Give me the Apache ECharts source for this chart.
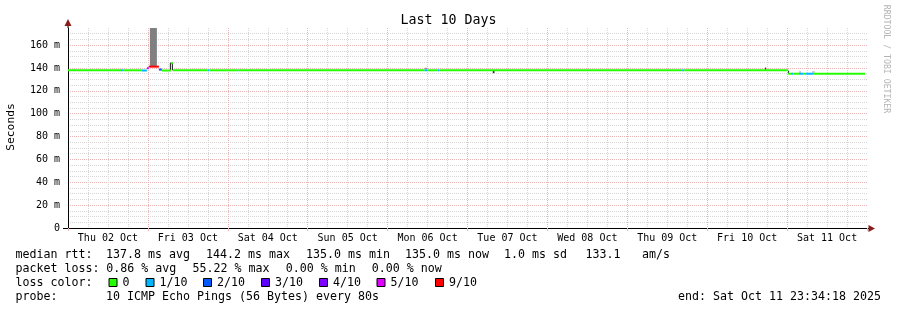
<!DOCTYPE html>
<html>
<head>
<meta charset="utf-8">
<title>Last 10 Days</title>
<script src="https://cdn.jsdelivr.net/npm/echarts@6/dist/echarts.min.js"></script>
<style>
  html, body { margin: 0; padding: 0; background: #fff; }
  #chart { width: 897px; height: 310px; }
</style>
</head>
<body>
<div id="chart"></div>
<script>
// x values are hours since Thu 02 Oct 00:00
const dayLabels = ['Thu 02 Oct', 'Fri 03 Oct', 'Sat 04 Oct', 'Sun 05 Oct', 'Mon 06 Oct',
  'Tue 07 Oct', 'Wed 08 Oct', 'Thu 09 Oct', 'Fri 10 Oct', 'Sat 11 Oct']

const lossLabels = ['0', '1/10', '2/10', '3/10', '4/10', '5/10', '9/10']
const lossColors = ['#26ff00', '#00b8ff', '#0059ff', '#5e00ff', '#7e00ff', '#dd00ff', '#ff0000']

// median rtt, one entry per segment (ms), loss = index into lossLabels
const medStart = [0, 15.9, 16.5, 22.2, 23.7, 24.3, 27.3, 28.2, 30.9, 31.5, 42.0, 42.45, 51.3, 51.6,
  107.1, 108.0, 111.0, 111.45, 184.5, 185.1, 216.3, 217.2, 217.8, 219.6, 220.8, 221.7, 223.8]
const medEnd = [15.9, 16.5, 22.2, 23.7, 24.3, 27.3, 28.2, 30.9, 31.5, 42.0, 42.45, 51.3, 51.6, 107.1,
  108.0, 111.0, 111.45, 184.5, 185.1, 216.3, 217.2, 217.8, 219.6, 220.8, 221.7, 223.8, 239.4]
const medValue = [138, 138, 138, 137.8, 139.8, 141.2, 138.6, 137.8, 144.2, 138, 138, 138, 138, 138,
  138, 138, 138, 138, 138, 138, 135, 135, 135, 135, 135, 135, 135]
const medLoss = [0, 1, 0, 1, 5, 6, 2, 0, 0, 0, 1, 0, 1, 0,
  1, 0, 1, 0, 1, 0, 0, 1, 0, 1, 0, 1, 0]

// smoke (ping spread)
const smokeStart = [24.6, 30.6, 31.2, 107.1, 127.6, 209.4, 216.3, 219.6, 223.5]
const smokeEnd = [26.7, 30.9, 31.5, 108.0, 128.1, 209.7, 216.6, 220.2, 224.4]
const smokeLow = [141.5, 138, 138, 138.8, 135.5, 138, 135, 136, 136]
const smokeHigh = [180, 144.5, 144.5, 140.2, 138, 140.5, 137.5, 137, 137]
const smokeColor = ['#808080', '#111111', '#111111', '#999999', '#222222', '#222222', '#222222', '#aaaaaa', '#aaaaaa']

const GRID_LEFT = 68
const GRID_TOP = 28
const GRID_W = 799
const GRID_H = 200
const MONO = '"DejaVu Sans Mono", monospace'
const GRID_MINOR = '#d6d6d6'
const GRID_MAJOR = '#e8b4b4'
const ARROW = '#8b1c1c'

const medianData = medStart.map((s, i) => [s, medEnd[i], medValue[i], medLoss[i]])
const smokeData = smokeStart.map((s, i) => [s, smokeEnd[i], smokeLow[i], smokeHigh[i], i])

const chart = echarts.init(document.getElementById('chart'), null, { renderer: 'canvas' })

const legendText = (text, x, y, extra) => ({
  type: 'text',
  style: Object.assign({ text, x, y, fill: '#000', font: '11.63px ' + MONO, verticalAlign: 'middle' }, extra || {})
})

// loss colour legend, swatch x positions
const swatchX = [108.5, 145.5, 203, 261, 319, 376.5, 435]
const lossLegend = []
lossLabels.forEach((lab, i) => {
  lossLegend.push({
    type: 'rect',
    shape: { x: swatchX[i] + 0.5, y: 278.5, width: 8, height: 8 },
    style: { fill: lossColors[i], stroke: '#000', lineWidth: 1 }
  })
  lossLegend.push(legendText(lab, swatchX[i] + 14, 283))
})

const option = {
  animation: false,
  backgroundColor: '#fff',
  title: {
    text: 'Last 10 Days',
    left: 'center',
    top: 9,
    textStyle: { fontFamily: MONO, fontSize: 13.3, fontWeight: 'normal', color: '#000' }
  },
  grid: {
    left: GRID_LEFT,
    top: GRID_TOP,
    width: GRID_W,
    height: GRID_H,
    outerBoundsMode: 'none',
    containLabel: false
  },
  xAxis: [
    {
      type: 'value',
      min: 0,
      max: 240,
      interval: 24,
      axisLine: { show: true, lineStyle: { color: '#000', width: 1 } },
      axisTick: { show: true, length: 3, lineStyle: { color: GRID_MAJOR } },
      axisLabel: { show: false },
      splitLine: { show: true, showMaxLine: false, lineStyle: { color: GRID_MAJOR, type: [1, 1], width: 1 } },
      minorTick: { show: false, splitNumber: 4 },
      minorSplitLine: { show: true, lineStyle: { color: GRID_MINOR, type: [1, 1], width: 1 } }
    },
    {
      type: 'value',
      min: 0,
      max: 240,
      interval: 12,
      position: 'bottom',
      axisLine: { show: false },
      axisTick: { show: false },
      splitLine: { show: false },
      axisLabel: {
        margin: 5,
        fontFamily: MONO,
        fontSize: 10,
        color: '#000',
        formatter: v => (v % 24 === 12 ? dayLabels[(v - 12) / 24] : '')
      }
    }
  ],
  yAxis: {
    type: 'value',
    min: 0,
    max: 175,
    interval: 5,
    axisLine: { show: true, lineStyle: { color: '#000', width: 1 } },
    axisTick: { show: false },
    axisLabel: {
      margin: 8,
      fontFamily: MONO,
      fontSize: 10,
      color: '#000',
      formatter: v => (v % 20 !== 0 ? '' : v === 0 ? '0' : v + ' m')
    },
    splitLine: {
      show: true,
      showMaxLine: false,
      lineStyle: { color: [GRID_MAJOR, GRID_MINOR, GRID_MINOR, GRID_MINOR], type: [1, 1], width: 1 }
    }
  },
  series: [
    {
      name: 'smoke',
      type: 'custom',
      clip: true,
      z: 2,
      encode: { x: [0, 1], y: [2, 3] },
      data: smokeData,
      renderItem: (params, api) => {
        const p0 = api.coord([api.value(0), api.value(3)])
        const p1 = api.coord([api.value(1), api.value(2)])
        return {
          type: 'rect',
          shape: { x: p0[0], y: p0[1], width: p1[0] - p0[0], height: p1[1] - p0[1] },
          style: { fill: smokeColor[api.value(4)] }
        }
      }
    },
    {
      name: 'median rtt',
      type: 'custom',
      clip: true,
      z: 3,
      encode: { x: [0, 1], y: 2 },
      data: medianData,
      renderItem: (params, api) => {
        const p0 = api.coord([api.value(0), api.value(2)])
        const p1 = api.coord([api.value(1), api.value(2)])
        return {
          type: 'rect',
          shape: { x: p0[0], y: p0[1] - 1, width: p1[0] - p0[0], height: 2 },
          style: { fill: lossColors[api.value(3)] }
        }
      }
    }
  ],
  graphic: [
    // axis arrows
    { type: 'line', shape: { x1: GRID_LEFT, y1: GRID_TOP, x2: GRID_LEFT, y2: 24 }, style: { stroke: '#000', lineWidth: 1 } },
    { type: 'polygon', shape: { points: [[GRID_LEFT, 19], [GRID_LEFT - 3.5, 26], [GRID_LEFT + 3.5, 26]] }, style: { fill: ARROW } },
    { type: 'line', shape: { x1: 63, y1: GRID_TOP + GRID_H + 0.5, x2: GRID_LEFT, y2: GRID_TOP + GRID_H + 0.5 }, style: { stroke: '#000', lineWidth: 1 } },
    { type: 'line', shape: { x1: GRID_LEFT + GRID_W, y1: GRID_TOP + GRID_H + 0.5, x2: 870, y2: GRID_TOP + GRID_H + 0.5 }, style: { stroke: '#000', lineWidth: 1 } },
    { type: 'polygon', shape: { points: [[875, GRID_TOP + GRID_H + 0.5], [868.5, GRID_TOP + GRID_H - 3], [868.5, GRID_TOP + GRID_H + 4]] }, style: { fill: ARROW } },
    // axis title and credit
    {
      type: 'text', x: 11, y: 127, rotation: Math.PI / 2,
      style: { text: 'Seconds', fill: '#000', font: '11.3px ' + MONO, align: 'center', verticalAlign: 'middle' }
    },
    {
      type: 'text', x: 886.5, y: 59, rotation: -Math.PI / 2,
      style: { text: 'RRDTOOL / TOBI OETIKER', fill: '#b4b4b4', font: '8.2px ' + MONO, align: 'center', verticalAlign: 'middle' }
    },
    // legend rows
    legendText('median rtt:', 15.5, 255),
    legendText('137.8 ms avg', 106, 255),
    legendText('144.2 ms max', 206, 255),
    legendText('135.0 ms min', 306, 255),
    legendText('135.0 ms now', 405, 255),
    legendText('1.0 ms sd', 504, 255),
    legendText('133.1', 585.5, 255),
    legendText('am/s', 642, 255),
    legendText('packet loss:', 15.5, 269),
    legendText('0.86 % avg', 106.3, 269),
    legendText('55.22 % max', 192.5, 269),
    legendText('0.00 % min', 285.7, 269),
    legendText('0.00 % now', 371.7, 269),
    legendText('loss color:', 15.5, 283),
    ...lossLegend,
    legendText('probe:', 15.5, 297),
    legendText('10 ICMP Echo Pings (56 Bytes) every 80s', 106, 297),
    legendText('end: Sat Oct 11 23:34:18 2025', 881, 297, { align: 'right' })
  ]
}

chart.setOption(option)

window.addEventListener('resize', () => {
  chart.resize()
})
</script>
</body>
</html>
